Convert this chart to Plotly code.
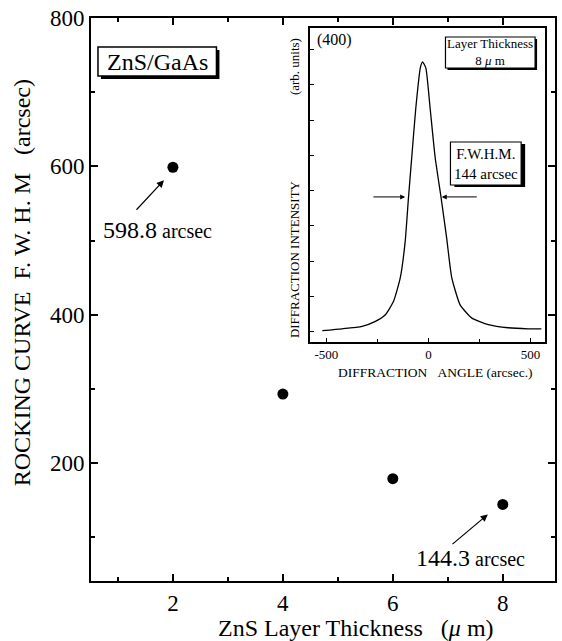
import plotly.graph_objects as go

# ---------------- data ----------------
thickness_um = [2, 4, 6, 8]
fwhm_arcsec = [598.8, 293, 179, 144.3]

x_ticks = [2, 4, 6, 8]
y_ticks = [200, 400, 600, 800]

inset_angle = [-520, -423, -325, -260, -211, -171, -138, -114, -98, -81, -62, -40,
               -29, -13, 8, 33, 62, 89, 114, 155, 211, 293, 390, 488, 553]
inset_intensity = [0.03, 0.08, 0.15, 0.29, 0.48, 0.86, 1.53, 2.56, 3.79, 5.01, 6.34,
                   7.48, 7.65, 7.48, 6.34, 4.93, 3.79, 2.66, 1.53, 0.76, 0.39, 0.20,
                   0.11, 0.08, 0.08]
inset_x_ticks = [-500, 0, 500]
inset_x_ticktext = ["-500", "0", "500"]

label_first = "598.8"
label_last = "144.3"

# ---------------- layout geometry ----------------
W, H = 562, 641
L, R, T, B = 91, 5, 18, 60
PW, PH = W - L - R, H - T - B

def pxx(v):
    return (v - L) / PW

def pxy(v):
    return (H - B - v) / PH

SERIF = "Liberation Serif"

fig = go.Figure()

fig.add_trace(go.Scatter(
    x=thickness_um, y=fwhm_arcsec, mode="markers",
    marker=dict(color="black", size=11), xaxis="x", yaxis="y",
    showlegend=False, hoverinfo="skip"))

fig.add_trace(go.Scatter(
    x=inset_angle, y=inset_intensity, mode="lines",
    line=dict(color="black", width=1.3, shape="spline", smoothing=0.5),
    xaxis="x2", yaxis="y2", showlegend=False, hoverinfo="skip"))

axis_common = dict(showline=True, linecolor="black", mirror="ticks", ticks="inside",
                   tickcolor="black", showgrid=False, zeroline=False)

fig.update_layout(
    width=W, height=H, autosize=False,
    margin=dict(l=L, r=R, t=T, b=B),
    paper_bgcolor="white", plot_bgcolor="white",
    font=dict(family=SERIF, color="black"),
    xaxis=dict(domain=[0, 1], range=[0.51, 8.95], tickvals=x_ticks,
               ticklen=7, tickwidth=1.5, linewidth=2,
               minor=dict(dtick=1, tick0=0, ticklen=4, ticks="inside", tickcolor="black"),
               tickfont=dict(size=23, family=SERIF), **axis_common),
    yaxis=dict(domain=[0, 1], range=[41, 800], tickvals=y_ticks,
               ticklen=7, tickwidth=1.5, linewidth=2,
               minor=dict(dtick=100, tick0=0, ticklen=4, ticks="inside", tickcolor="black"),
               tickfont=dict(size=23, family=SERIF), **axis_common),
    xaxis2=dict(domain=[pxx(311), pxx(547)], range=[-580, 571], anchor="y2",
                tickvals=inset_x_ticks, ticktext=inset_x_ticktext,
                showline=True, linecolor="black", linewidth=1.5, mirror=True,
                ticks="inside", ticklen=4, tickcolor="black",
                minor=dict(tickvals=[-250, 250], ticklen=3, ticks="inside", tickcolor="black"),
                showgrid=False, zeroline=False,
                tickfont=dict(size=13, family=SERIF)),
    yaxis2=dict(domain=[pxy(341.5), pxy(28)], range=[-0.28, 8.61], anchor="x2",
                dtick=1, tick0=0, showticklabels=False,
                showline=True, linecolor="black", linewidth=1.5, mirror=True,
                ticks="inside", ticklen=4, tickcolor="black",
                showgrid=False, zeroline=False),
)

shapes = []
def shadow_box(x0, x1, y0, y1, dx, dy, lw=1.2):
    shapes.append(dict(type="rect", xref="paper", yref="paper",
                       x0=pxx(x0 + dx), x1=pxx(x1 + dx), y0=pxy(y1 + dy), y1=pxy(y0 + dy),
                       fillcolor="black", line=dict(width=0), layer="above"))
    shapes.append(dict(type="rect", xref="paper", yref="paper",
                       x0=pxx(x0), x1=pxx(x1), y0=pxy(y1), y1=pxy(y0),
                       fillcolor="white", line=dict(color="black", width=lw), layer="above"))

shadow_box(98, 217, 47, 76, 3, 3, 1.5)
shadow_box(447, 537, 37, 68, 2, 2)
shadow_box(452, 523, 142, 185, 4, 2)
fig.update_layout(shapes=shapes)

ann = []
def text(xp, yp, s, size, angle=0):
    ann.append(dict(x=pxx(xp), y=pxy(yp), xref="paper", yref="paper", text=s,
                    showarrow=False, textangle=angle, xanchor="center", yanchor="middle",
                    font=dict(size=size, family=SERIF, color="black")))

text(158, 61.5, "ZnS/GaAs", 24)
text(357, 628, "ZnS Layer Thickness&nbsp;&nbsp;&nbsp;(<i>μ</i> m)", 24)
text(22, 283, "ROCKING CURVE&nbsp;&nbsp;F.&nbsp;W.&nbsp;H.&nbsp;M&nbsp;&nbsp;&nbsp;(arcsec)", 24, -90)

# inset texts
text(336, 40, "(400)", 16)
text(492, 52, "Layer Thickness<br>8 <i>μ</i> m", 13)
text(487.5, 163.5, "F.W.H.M.<br>144 arcsec", 15)
text(437, 372, "DIFFRACTION&nbsp;&nbsp;&nbsp;ANGLE (arcsec.)", 13.5)
text(295, 259, "DIFFRACTION INTENSITY", 13, -90)
text(295, 67, "(arb. units)", 13, -90)

# data labels
ann.append(dict(x=1.72, y=514, xref="x", yref="y", showarrow=False,
                text=label_first + "<span style='font-size:20px'> arcsec</span>",
                font=dict(size=24, family=SERIF, color="black")))
ann.append(dict(x=7.41, y=71.5, xref="x", yref="y", showarrow=False,
                text=label_last + "<span style='font-size:20px'> arcsec</span>",
                font=dict(size=24, family=SERIF, color="black")))

# main arrows
ann.append(dict(x=1.837, y=581.3, ax=1.312, ay=539.5, xref="x", yref="y",
                axref="x", ayref="y", text="", showarrow=True, arrowhead=2,
                arrowsize=1.2, arrowwidth=1.2, arrowcolor="black"))
ann.append(dict(x=7.728, y=130.8, ax=7.058, ay=89.0, xref="x", yref="y",
                axref="x", ayref="y", text="", showarrow=True, arrowhead=2,
                arrowsize=1.2, arrowwidth=1.2, arrowcolor="black"))

# inset FWHM arrows
ann.append(dict(x=-114, y=3.82, ax=-277, ay=3.82, xref="x2", yref="y2",
                axref="x2", ayref="y2", text="", showarrow=True, arrowhead=2,
                arrowsize=1, arrowwidth=1, arrowcolor="black"))
ann.append(dict(x=65, y=3.82, ax=244, ay=3.82, xref="x2", yref="y2",
                axref="x2", ayref="y2", text="", showarrow=True, arrowhead=2,
                arrowsize=1, arrowwidth=1, arrowcolor="black"))

fig.update_layout(annotations=ann)

fig.write_html("out.html", config={"displayModeBar": False},
               post_script="document.body.style.margin='0';document.body.style.overflow='hidden';")
